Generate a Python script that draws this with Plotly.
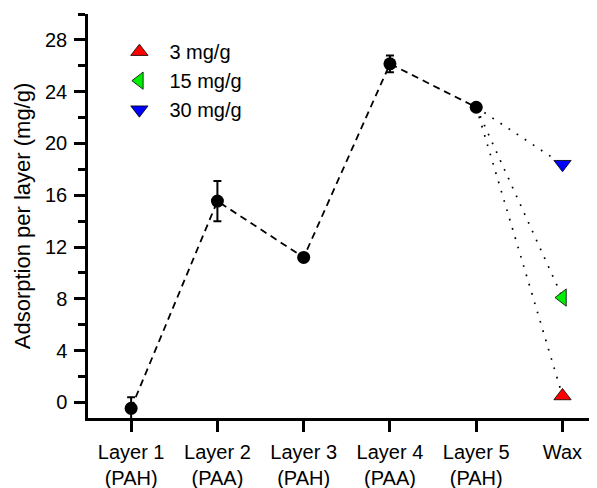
import plotly.graph_objects as go

categories = ["Layer 1<br>(PAH)", "Layer 2<br>(PAA)", "Layer 3<br>(PAH)",
              "Layer 4<br>(PAA)", "Layer 5<br>(PAH)", "Wax"]
layer_x = [0, 1, 2, 3, 4]
layer_values = [-0.45, 15.55, 11.2, 26.15, 22.8]
layer_errors = [0.85, 1.55, 0.0, 0.65, 0.0]

wax_x = 5
wax_labels = ["3 mg/g", "15 mg/g", "30 mg/g"]
wax_values = [0.5, 8.1, 18.4]
wax_symbols = ["triangle-up", "triangle-left", "triangle-down"]
wax_colors = ["#ff0000", "#00ee00", "#0000ff"]

FONT = "Arial, Liberation Sans, sans-serif"

fig = go.Figure()

# dotted connectors from Layer 5 to each wax point
for v in wax_values:
    fig.add_trace(go.Scatter(
        x=[layer_x[-1], wax_x], y=[layer_values[-1], v], mode="lines",
        line=dict(color="black", width=1.7, dash="1.7px,8px"),
        showlegend=False, hoverinfo="skip"))

# dashed main series with error bars
fig.add_trace(go.Scatter(
    x=layer_x, y=layer_values, mode="lines+markers",
    line=dict(color="black", width=1.8, dash="7px,5px"),
    marker=dict(color="black", size=13, symbol="circle"),
    error_y=dict(type="data", array=layer_errors, visible=True,
                 color="black", thickness=2, width=4),
    showlegend=False))

for i, (lab, v, sym, col) in enumerate(zip(wax_labels, wax_values, wax_symbols, wax_colors)):
    fig.add_trace(go.Scatter(
        x=[wax_x], y=[v], mode="markers", name=lab,
        marker=dict(symbol=sym, size=15, color=col,
                    line=dict(color="black", width=0.8))))

axis_common = dict(
    showline=True, linecolor="black", linewidth=2.5,
    ticks="outside", tickcolor="black", tickwidth=2.5, ticklen=11,
    showgrid=False, zeroline=False, mirror=False,
    tickfont=dict(family=FONT, size=20, color="black"),
)

# page body has an 8px default margin; figure sized to fit the 597x488 window
fig.update_layout(
    width=589, height=480,
    margin=dict(l=80, r=0, t=6, b=70),
    plot_bgcolor="white", paper_bgcolor="white",
    font=dict(family=FONT, size=20, color="black"),
    showlegend=True,
    legend=dict(x=0.042, y=0.955, xanchor="left", yanchor="top",
                bgcolor="rgba(0,0,0,0)", font=dict(family=FONT, size=20),
                traceorder="normal", itemwidth=50),
    xaxis=dict(range=[-0.5, 5.4], tickmode="array",
               tickvals=list(range(len(categories))), ticktext=categories,
               ticklabelstandoff=3,
               **axis_common),
    yaxis=dict(range=[-1.2, 30], tickmode="array",
               tickvals=[0, 4, 8, 12, 16, 20, 24, 28],
               ticklabelstandoff=3,
               minor=dict(tickmode="array", tickvals=[2, 6, 10, 14, 18, 22, 26, 30],
                          ticks="outside", ticklen=7, tickwidth=2.5, tickcolor="black"),
               title=dict(text="Adsorption per layer (mg/g)",
                          font=dict(family=FONT, size=22, color="black"),
                          standoff=9),
               **axis_common),
)

fig.write_html("out.html")
